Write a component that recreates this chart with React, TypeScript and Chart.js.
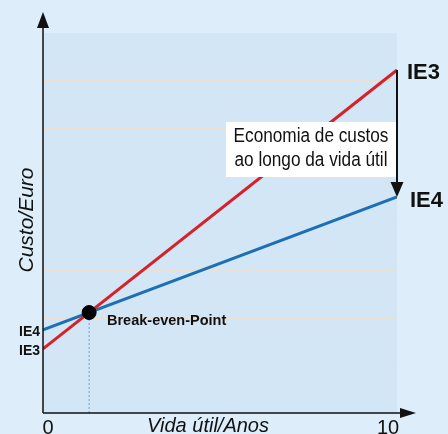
import React, { useEffect, useRef } from "react";
import { Chart, registerables } from "chart.js";

Chart.register(...registerables);

// Data
const years = [0, 10];
const ie3Cost = [1.35, 7.22];
const ie4Cost = [1.75, 4.55];
const xTickLabels = ["0", "10"];
const seriesNames = ["IE3", "IE4"];
const xTitle = "Vida útil/Anos";
const yTitle = "Custo/Euro";
const breakEvenLabel = "Break-even-Point";
const savingsText = ["Economia de custos", "ao longo da vida útil"];

const RED = "#d6212b";
const BLUE = "#1c6fb4";
const PAGE_BG = "#ddeefa";
const PLOT_BG = "#d3e6f5";

// intersection of the two lines (derived from the data)
const slope3 = (ie3Cost[1] - ie3Cost[0]) / (years[1] - years[0]);
const slope4 = (ie4Cost[1] - ie4Cost[0]) / (years[1] - years[0]);
const beX = (ie4Cost[0] - ie3Cost[0]) / (slope3 - slope4);
const beY = ie3Cost[0] + slope3 * beX;

const decorPlugin = {
  id: "decor",
  beforeDraw(chart: any) {
    const { ctx, chartArea: a } = chart;
    ctx.save();
    ctx.fillStyle = PAGE_BG;
    ctx.fillRect(0, 0, chart.width, chart.height);
    ctx.fillStyle = PLOT_BG;
    ctx.fillRect(a.left, a.top, a.right - a.left, a.bottom - a.top);
    ctx.restore();
  },
  afterDatasetsDraw(chart: any) {
    const { ctx, chartArea: a, scales } = chart;
    const xs = scales.x;
    const ys = scales.y;
    ctx.save();
    // axes
    ctx.strokeStyle = "#111";
    ctx.fillStyle = "#111";
    ctx.lineWidth = 1.5;
    const x0 = xs.getPixelForValue(years[0]);
    const y0 = ys.getPixelForValue(0);
    ctx.beginPath();
    ctx.moveTo(x0, y0);
    ctx.lineTo(x0, 26);
    ctx.moveTo(x0, y0);
    ctx.lineTo(a.right + 4, y0);
    ctx.stroke();
    ctx.beginPath();
    ctx.moveTo(x0, 12);
    ctx.lineTo(x0 - 6, 28);
    ctx.lineTo(x0 + 6, 28);
    ctx.closePath();
    ctx.fill();
    ctx.beginPath();
    ctx.moveTo(a.right + 19, y0);
    ctx.lineTo(a.right + 3, y0 - 5);
    ctx.lineTo(a.right + 3, y0 + 5);
    ctx.closePath();
    ctx.fill();

    // savings text box
    ctx.fillStyle = "#ffffff";
    ctx.fillRect(226, 122, a.right - 226, 55);
    ctx.fillStyle = "#111";
    ctx.font = "20px 'Liberation Sans', Arial, sans-serif";
    ctx.textAlign = "center";
    ctx.textBaseline = "alphabetic";
    ctx.save();
    ctx.translate(311, 0);
    ctx.scale(0.86, 1);
    ctx.fillText(savingsText[0], 0, 142);
    ctx.fillText(savingsText[1], 0, 166);
    ctx.restore();

    // savings arrow
    const xe = xs.getPixelForValue(years[1]);
    const yTop = ys.getPixelForValue(ie3Cost[1]);
    const yBot = ys.getPixelForValue(ie4Cost[1]);
    ctx.lineWidth = 2;
    ctx.beginPath();
    ctx.moveTo(xe, yTop);
    ctx.lineTo(xe, yBot - 12);
    ctx.stroke();
    ctx.beginPath();
    ctx.moveTo(xe, yBot);
    ctx.lineTo(xe - 6.5, yBot - 15);
    ctx.lineTo(xe + 6.5, yBot - 15);
    ctx.closePath();
    ctx.fill();

    // series labels right
    ctx.textAlign = "left";
    ctx.font = "bold 22px 'Liberation Sans', Arial, sans-serif";
    ctx.fillText(seriesNames[0], 407, yTop + 9);
    ctx.fillText(seriesNames[1], 410, yBot + 10);
    // series labels left
    ctx.textAlign = "right";
    ctx.font = "bold 14px 'Liberation Sans', Arial, sans-serif";
    ctx.fillText(seriesNames[1], 40, ys.getPixelForValue(ie4Cost[0]) + 6);
    ctx.fillText(seriesNames[0], 40, ys.getPixelForValue(ie3Cost[0]) + 6);

    // break-even label
    ctx.textAlign = "left";
    ctx.font = "bold 14.5px 'Liberation Sans', Arial, sans-serif";
    ctx.fillText(breakEvenLabel, 107, 324.5);

    // tick labels
    ctx.font = "20px 'Liberation Sans', Arial, sans-serif";
    ctx.textAlign = "center";
    ctx.fillText(xTickLabels[0], x0 + 5, 434);
    ctx.fillText(xTickLabels[1], xe - 9, 434);

    // axis titles
    ctx.font = "italic 20px 'Liberation Sans', Arial, sans-serif";
    ctx.fillText(xTitle, 208, 432);
    ctx.save();
    ctx.translate(33, 220);
    ctx.rotate(-Math.PI / 2);
    ctx.font = "italic 21px 'Liberation Sans', Arial, sans-serif";
    ctx.fillText(yTitle, 0, 0);
    ctx.restore();

    ctx.restore();
  },
};

export default function App() {
  const ref = useRef<HTMLCanvasElement>(null);
  useEffect(() => {
    document.body.style.margin = "0";
    const chart = new Chart(ref.current as HTMLCanvasElement, {
      type: "line",
      data: {
        datasets: [
          {
            label: "Break-even",
            data: [{ x: beX, y: beY }],
            showLine: false,
            pointRadius: 7,
            pointBackgroundColor: "#000",
            pointBorderColor: "#000",
            order: 0,
          },
          {
            label: "drop",
            data: [
              { x: beX, y: 0 },
              { x: beX, y: beY },
            ],
            borderColor: "#5ea8e6",
            borderWidth: 1,
            borderDash: [2, 2],
            pointRadius: 0,
            order: 3,
          },
          {
            label: seriesNames[1],
            data: years.map((x, i) => ({ x, y: ie4Cost[i] })),
            borderColor: BLUE,
            borderWidth: 3,
            pointRadius: 0,
            order: 2,
          },
          {
            label: seriesNames[0],
            data: years.map((x, i) => ({ x, y: ie3Cost[i] })),
            borderColor: RED,
            borderWidth: 3,
            pointRadius: 0,
            order: 1,
          },
        ],
      },
      options: {
        responsive: false,
        animation: false,
        layout: { padding: { left: 43, right: 51, top: 33, bottom: 21 } },
        plugins: { legend: { display: false }, tooltip: { enabled: false } },
        scales: {
          x: { type: "linear", min: 0, max: 10, display: false },
          y: {
            min: 0,
            max: 8,
            display: true,
            ticks: { display: false, stepSize: 1 },
            grid: {
              drawTicks: false,
              color: (c: any) =>
                c.tick && (c.tick.value === 0 || c.tick.value === 8)
                  ? "rgba(0,0,0,0)"
                  : "rgba(236,222,208,0.9)",
              lineWidth: 1,
            },
            border: { display: false },
          },
        },
      },
      plugins: [decorPlugin],
    });
    return () => chart.destroy();
  }, []);
  return (
    <div style={{ width: 448, height: 434, background: PAGE_BG }}>
      <canvas ref={ref} width={448} height={434} />
    </div>
  );
}
